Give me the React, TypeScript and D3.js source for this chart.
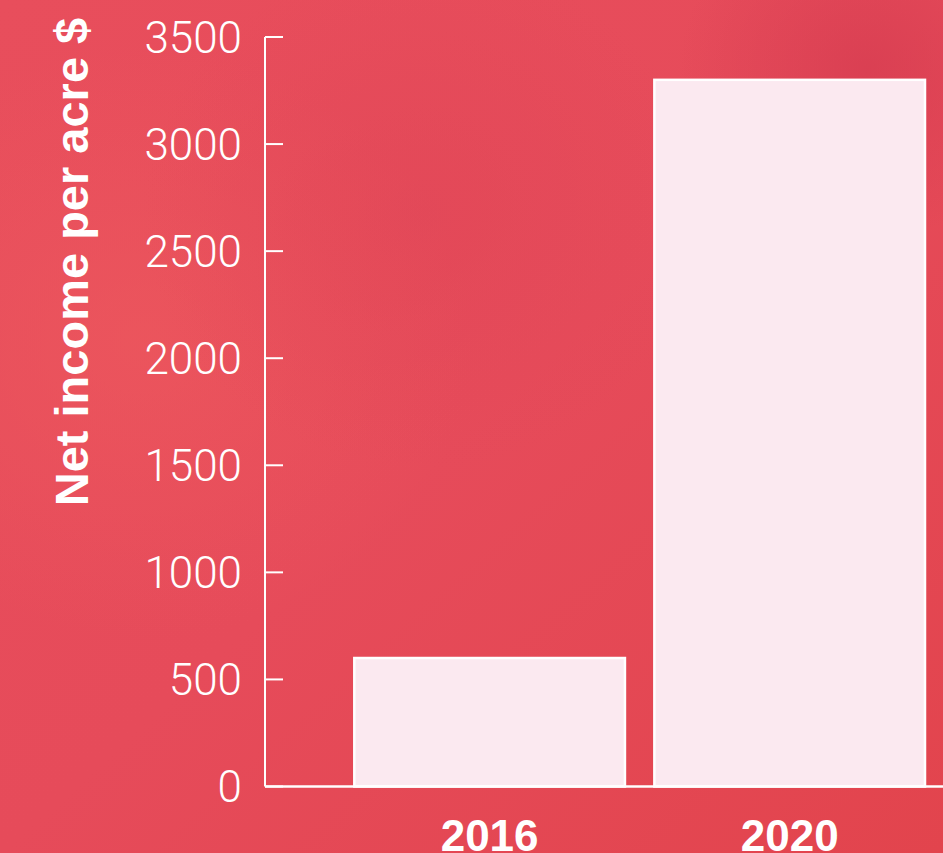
import React from "react";
import * as d3 from "d3";

const years = ["2016", "2020"];
const netIncome = [600, 3300];
const yTicks = [0, 500, 1000, 1500, 2000, 2500, 3000, 3500];
const yTitle = "Net income per acre $";

const W = 943;
const H = 853;

export default function App() {
  const y = d3.scaleLinear().domain([0, 3500]).range([786.5, 37]);
  const x = d3.scaleBand<string>().domain(years).range([354.3, 925]).paddingInner(0.098).paddingOuter(0);
  const axisX = 265;
  const font = "'Helvetica Neue', Roboto, 'Liberation Sans', Arial, sans-serif";
  const boldFont = "'Liberation Sans', Arial, Helvetica, sans-serif";

  return (
    <div style={{ position: "absolute", left: 0, top: 0, width: W, height: H, overflow: "hidden" }}>
      <svg width={W} height={H} viewBox={`0 0 ${W} ${H}`} style={{ display: "block" }}>
        <defs>
          <linearGradient id="bg" x1="0" y1="0" x2="1" y2="1">
            <stop offset="0" stopColor="#e84e5c" />
            <stop offset="0.5" stopColor="#e64b5a" />
            <stop offset="1" stopColor="#e2444d" />
          </linearGradient>
          <radialGradient id="blob1" cx="0.15" cy="0.4" r="0.35">
            <stop offset="0" stopColor="#ee5a5e" stopOpacity="0.6" />
            <stop offset="1" stopColor="#ee5a5e" stopOpacity="0" />
          </radialGradient>
          <radialGradient id="blob2" cx="0.92" cy="0.08" r="0.2">
            <stop offset="0" stopColor="#d2384e" stopOpacity="0.6" />
            <stop offset="1" stopColor="#d2384e" stopOpacity="0" />
          </radialGradient>
          <radialGradient id="blob3" cx="0.45" cy="0.25" r="0.3">
            <stop offset="0" stopColor="#df4556" stopOpacity="0.5" />
            <stop offset="1" stopColor="#df4556" stopOpacity="0" />
          </radialGradient>
        </defs>
        <rect x={0} y={0} width={W} height={H} fill="url(#bg)" />
        <rect x={0} y={0} width={W} height={H} fill="url(#blob1)" />
        <rect x={0} y={0} width={W} height={H} fill="url(#blob2)" />
        <rect x={0} y={0} width={W} height={H} fill="url(#blob3)" />

        {/* bars */}
        {years.map((yr, i) => (
          <rect
            key={yr}
            x={x(yr)}
            y={y(netIncome[i])}
            width={x.bandwidth()}
            height={y(0) - y(netIncome[i])}
            fill="#fbe9f0"
            stroke="#ffffff"
            strokeWidth={2.5}
          />
        ))}

        {/* y axis */}
        <line x1={axisX} x2={axisX} y1={y(3500)} y2={y(0)} stroke="#fff" strokeWidth={2} />
        <line x1={axisX} x2={W} y1={y(0)} y2={y(0)} stroke="#fff" strokeWidth={2.5} />
        {yTicks.map((t) => (
          <g key={t}>
            <line x1={axisX} x2={axisX + 18} y1={y(t)} y2={y(t)} stroke="#fff" strokeWidth={2} />
            <text
              x={242}
              y={y(t)}
              dy="0.36em"
              textAnchor="end"
              fill="#fff"
              fontFamily={font}
              fontWeight={300}
              fontSize={44}
            >
              {t}
            </text>
          </g>
        ))}

        {/* x labels */}
        {years.map((yr) => (
          <text
            key={yr}
            x={(x(yr) as number) + x.bandwidth() / 2}
            y={851}
            textAnchor="middle"
            fill="#fff"
            fontFamily={boldFont}
            fontWeight={700}
            fontSize={44}
          >
            {yr}
          </text>
        ))}

        {/* y title */}
        <text
          transform={`translate(88,262) rotate(-90)`}
          textAnchor="middle"
          fill="#fff"
          fontFamily={boldFont}
          fontWeight={700}
          fontSize={47}
        >
          {yTitle}
        </text>
      </svg>
    </div>
  );
}
